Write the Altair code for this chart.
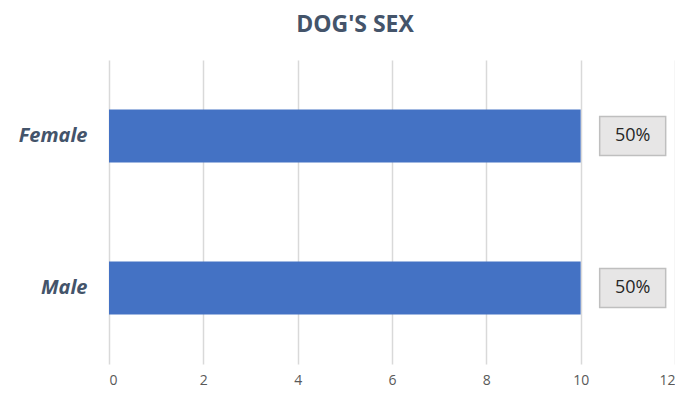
import altair as alt
import pandas as pd

categories = ["Female", "Male"]
counts = [10, 10]
labels = ["50%", "50%"]

df = pd.DataFrame({"sex": categories, "count": counts, "label": labels})

y_enc = alt.Y("sex:N", sort=categories, title=None,
              scale=alt.Scale(paddingInner=0.65, paddingOuter=0.325),
              axis=alt.Axis(labelFont="Open Sans", labelFontSize=20, labelFontWeight="bold",
                            labelFontStyle="italic", labelColor="#44546a", labelPadding=22,
                            ticks=False, domain=False, grid=False))
x_enc = alt.X("count:Q", title=None,
              scale=alt.Scale(domain=[0, 12], nice=False),
              axis=alt.Axis(values=[0, 2, 4, 6, 8, 10, 12], labelFont="Open Sans", labelFontSize=14,
                            labelColor="#595959", labelPadding=9, ticks=False, domain=False,
                            grid=True, gridColor="#d9d9d9", gridWidth=1.5))

bars = alt.Chart(df).mark_bar(color="#4472c4").encode(x=x_enc, y=y_enc)

box = alt.Chart(df).mark_point(
    shape="M-1,-0.59L1,-0.59L1,0.59L-1,0.59Z", size=66 * 66, filled=True,
    fill="#e7e6e6", stroke="#bfbfbf", strokeWidth=1.5, opacity=1, xOffset=52
).encode(x="count:Q", y=alt.Y("sex:N", sort=categories))

text = alt.Chart(df).mark_text(
    font="Open Sans", fontSize=18, color="#262626", xOffset=52
).encode(x="count:Q", y=alt.Y("sex:N", sort=categories), text="label:N")

chart = (bars + box + text).properties(
    width=566, height=304,
    title=alt.TitleParams("DOG'S SEX", font="Open Sans", fontSize=23, fontWeight="bold",
                          color="#44546a", anchor="middle", dx=-37, offset=23),
    autosize=alt.AutoSizeParams(type="none"),
    padding={"left": 101, "top": 52, "right": 0, "bottom": 26},
).configure_view(stroke=None)

chart.save("out.html", embed_options={"renderer": "svg", "actions": False})
